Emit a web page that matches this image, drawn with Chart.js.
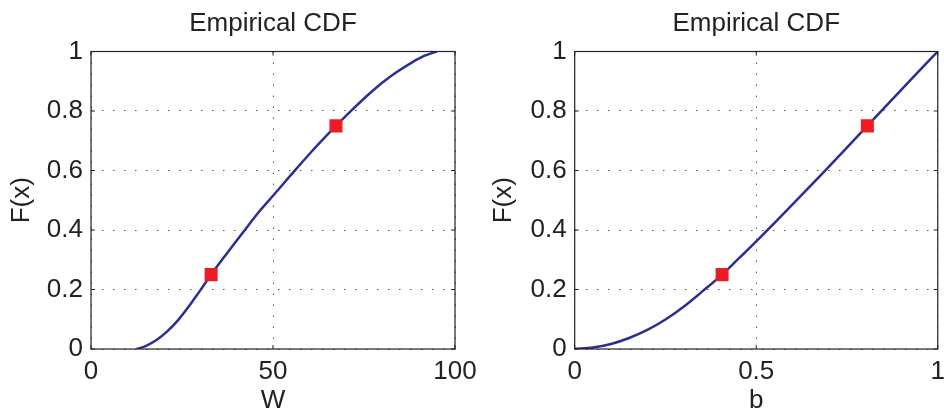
<!DOCTYPE html>
<html>
<head>
<meta charset="utf-8">
<script src="https://cdn.jsdelivr.net/npm/chart.js@4"></script>
<style>
  html, body { margin: 0; padding: 0; background: #fff; overflow: hidden; }
  body { width: 944px; height: 414px; position: relative; }
  .box { position: absolute; top: 0; height: 414px; }
</style>
</head>
<body>
<div class="box" style="left:0;width:500px"><canvas id="cdfW" width="500" height="414"></canvas></div>
<div class="box" style="left:472px;width:480px"><canvas id="cdfB" width="480" height="414"></canvas></div>
<script>
// Left panel: empirical CDF of W
const wX = [12.5, 15, 18, 21, 24, 27, 30, 33, 37, 42, 46, 50, 55, 61, 67.3, 72, 76, 80, 84, 88, 91.5, 95];
const wF = [0, 0.01, 0.03, 0.06, 0.098, 0.145, 0.197, 0.25, 0.316, 0.396, 0.459, 0.515, 0.586, 0.669, 0.75, 0.807, 0.853, 0.895, 0.931, 0.962, 0.985, 1.0];
const wQuartX = [33.0, 67.3];
const wQuartF = [0.25, 0.75];
const wTicks = [0, 50, 100];

// Right panel: empirical CDF of b
const bX = [0, 0.05, 0.1, 0.15, 0.2, 0.25, 0.3, 0.35, 0.406, 0.45, 0.5, 0.56, 0.62, 0.68, 0.74, 0.806, 0.87, 0.935, 1.0];
const bF = [0, 0.005, 0.017, 0.037, 0.064, 0.099, 0.142, 0.192, 0.25, 0.302, 0.362, 0.436, 0.511, 0.587, 0.664, 0.75, 0.833, 0.917, 1.0];
const bQuartX = [0.406, 0.806];
const bQuartF = [0.25, 0.75];
const bTicks = [0, 0.5, 1];

const fTicks = [0, 0.2, 0.4, 0.6, 0.8, 1];
const titleText = 'Empirical CDF';
const yLabel = 'F(x)';

const FONT = "'Liberation Sans', Arial, Helvetica, sans-serif";
const INK = '#222';
const SIZE = 26;

// MATLAB style frame with inward tick marks, title centred over the axes
const framePlugin = {
  id: 'frame',
  afterDraw(chart) {
    const { ctx, chartArea: a, scales } = chart;
    ctx.save();
    ctx.strokeStyle = INK;
    ctx.lineWidth = 1.2;
    ctx.strokeRect(a.left, a.top, a.right - a.left, a.bottom - a.top);
    ctx.lineWidth = 1;
    ctx.beginPath();
    scales.x.ticks.forEach(t => {
      const px = scales.x.getPixelForValue(t.value);
      ctx.moveTo(px, a.bottom); ctx.lineTo(px, a.bottom - 4);
      ctx.moveTo(px, a.top); ctx.lineTo(px, a.top + 4);
    });
    scales.y.ticks.forEach(t => {
      const py = scales.y.getPixelForValue(t.value);
      ctx.moveTo(a.left, py); ctx.lineTo(a.left + 4, py);
      ctx.moveTo(a.right, py); ctx.lineTo(a.right - 4, py);
    });
    ctx.stroke();

    ctx.fillStyle = INK;
    ctx.font = SIZE + 'px ' + FONT;
    ctx.textAlign = 'center';
    ctx.textBaseline = 'alphabetic';
    ctx.fillText(titleText, (a.left + a.right) / 2, 31);
    ctx.restore();
  }
};

function makeCdf(id, xs, fs, qx, qf, xTicks, xLabel, opts) {
  const curve = xs.map((x, i) => ({ x: x, y: fs[i] }));
  const quart = qx.map((x, i) => ({ x: x, y: qf[i] }));
  return new Chart(document.getElementById(id), {
    type: 'scatter',
    data: {
      datasets: [
        {
          data: quart,
          order: 0,
          pointStyle: 'rect',
          pointRadius: 9.2,
          pointHoverRadius: 9.2,
          pointBackgroundColor: '#ed1c24',
          pointBorderWidth: 0,
          showLine: false
        },
        {
          data: curve,
          order: 1,
          showLine: true,
          borderColor: '#2b2e92',
          borderWidth: 2.5,
          pointRadius: 0,
          cubicInterpolationMode: 'monotone'
        }
      ]
    },
    options: {
      responsive: false,
      animation: false,
      events: [],
      layout: { padding: { left: 0, right: opts.padRight, top: 51.5, bottom: 0 } },
      plugins: {
        legend: { display: false },
        tooltip: { enabled: false },
        title: { display: false }
      },
      scales: {
        x: {
          type: 'linear',
          min: xTicks[0],
          max: xTicks[xTicks.length - 1],
          afterBuildTicks: s => { s.ticks = xTicks.map(v => ({ value: v })); },
          afterFit: s => { s.height = 65; },
          ticks: { color: INK, padding: 7, font: { family: FONT, size: SIZE }, callback: v => String(v) },
          grid: { color: '#555', lineWidth: 1, drawTicks: false, tickLength: 0 },
          border: { display: false, dash: [1.5, 9.5] },
          title: {
            display: true, text: xLabel, color: INK,
            font: { family: FONT, size: SIZE, lineHeight: 1 }, padding: 0
          }
        },
        y: {
          type: 'linear',
          min: 0,
          max: 1,
          afterBuildTicks: s => { s.ticks = fTicks.map(v => ({ value: v })); },
          afterFit: s => { s.width = opts.yWidth; },
          ticks: { color: INK, padding: 8, font: { family: FONT, size: SIZE }, callback: v => String(v) },
          grid: { color: '#555', lineWidth: 1, drawTicks: false, tickLength: 0 },
          border: { display: false, dash: [1.5, 9.5] },
          title: {
            display: true, text: yLabel, color: INK,
            font: { family: FONT, size: SIZE, lineHeight: 1.2 }, padding: { top: opts.yTitlePad, bottom: 0 }
          }
        }
      }
    },
    plugins: [framePlugin]
  });
}

makeCdf('cdfW', wX, wF, wQuartX, wQuartF, wTicks, 'W', { padRight: 45, yWidth: 91, yTitlePad: 6.5 });
makeCdf('cdfB', bX, bF, bQuartX, bQuartF, bTicks, 'b', { padRight: 13.3, yWidth: 102.7, yTitlePad: 16 });
</script>
</body>
</html>
